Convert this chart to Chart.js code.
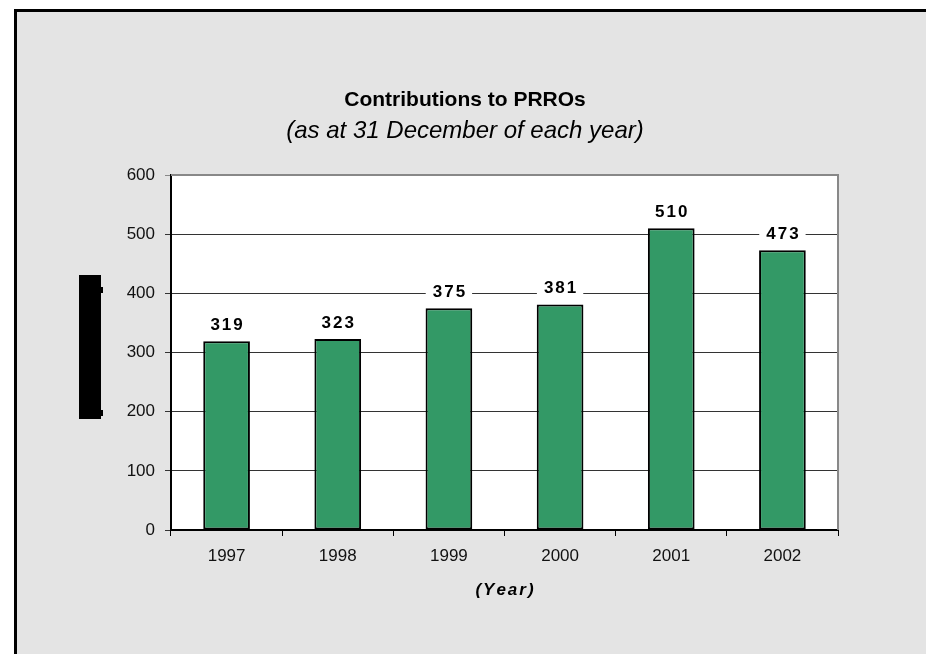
<!DOCTYPE html>
<html>
<head>
<meta charset="utf-8">
<script src="https://cdn.jsdelivr.net/npm/chart.js@4/dist/chart.umd.min.js"></script>
<style>
  html, body { margin: 0; padding: 0; background: #fff; }
  #wrap { position: relative; width: 926px; height: 654px; }
</style>
</head>
<body>
<div id="wrap"><canvas id="myChart" width="926" height="654"></canvas></div>
<script>
const years = ["1997", "1998", "1999", "2000", "2001", "2002"];
const contributions = [319, 323, 375, 381, 510, 473];
const yTicks = [0, 100, 200, 300, 400, 500, 600];

const FONT = "'Liberation Sans', Arial, sans-serif";

// draws text one char at a time so letter spacing works everywhere
function spacedText(ctx, text, cx, cy, spacing) {
    const chars = text.split("");
    let total = 0;
    chars.forEach((c) => (total += ctx.measureText(c).width));
    total += spacing * (chars.length - 1);
    let x = cx - total / 2;
    ctx.textAlign = "left";
    chars.forEach((c) => {
        ctx.fillText(c, x, cy);
        x += ctx.measureText(c).width + spacing;
    });
    return total;
}

const panel = {
    id: "panel",
    beforeDraw(chart) {
        const { ctx, chartArea } = chart;
        ctx.save();
        ctx.fillStyle = "#ffffff";
        ctx.fillRect(0, 0, chart.width, chart.height);
        ctx.fillStyle = "#e4e4e4";
        ctx.fillRect(14, 9, chart.width - 14, chart.height - 9);
        ctx.strokeStyle = "#000";
        ctx.lineWidth = 3;
        ctx.beginPath();
        ctx.moveTo(15.5, chart.height);
        ctx.lineTo(15.5, 10.5);
        ctx.lineTo(chart.width, 10.5);
        ctx.stroke();
        // plot area
        ctx.fillStyle = "#ffffff";
        ctx.fillRect(chartArea.left, chartArea.top, chartArea.right - chartArea.left, chartArea.bottom - chartArea.top);
        ctx.restore();
    },
    afterDraw(chart) {
        const { ctx, chartArea } = chart;
        ctx.save();
        ctx.strokeStyle = "#888";
        ctx.lineWidth = 2;
        ctx.beginPath();
        ctx.moveTo(chartArea.left, chartArea.top);
        ctx.lineTo(chartArea.right, chartArea.top);
        ctx.lineTo(chartArea.right, chartArea.bottom);
        ctx.stroke();

        // titles
        const mid = (chartArea.left + chartArea.right) / 2;
        ctx.fillStyle = "#000";
        ctx.textAlign = "center";
        ctx.textBaseline = "alphabetic";
        ctx.font = "bold 21px " + FONT;
        ctx.fillText("Contributions to PRROs", 465, 106);
        ctx.font = "italic 24px " + FONT;
        ctx.fillText("(as at 31 December of each year)", 465, 138);
        ctx.textBaseline = "middle";
        ctx.font = "italic bold 17px " + FONT;
        spacedText(ctx, "(Year)", mid, 590, 2);

        // redacted axis title block
        ctx.fillStyle = "#000";
        ctx.fillRect(79, 275, 22, 144);
        ctx.fillRect(101, 287, 2, 6);
        ctx.fillRect(101, 410, 2, 6);

        // value labels
        const meta = chart.getDatasetMeta(0);
        ctx.font = "bold 17px " + FONT;
        meta.data.forEach((bar, i) => {
            const txt = String(contributions[i]);
            const cy = bar.y - 17;
            let w = 0;
            txt.split("").forEach((c) => (w += ctx.measureText(c).width));
            w += 2 * (txt.length - 1);
            ctx.fillStyle = "#ffffff";
            ctx.fillRect(bar.x - w / 2 - 7, cy - 12, w + 14, 24);
            ctx.fillStyle = "#000";
            spacedText(ctx, txt, bar.x, cy + 1, 2);
        });
        ctx.restore();
    },
};

const data = {
    labels: years,
    datasets: [
        {
            data: contributions,
            backgroundColor: "#339966",
            borderColor: "#000",
            borderWidth: 2,
            borderSkipped: false,
            categoryPercentage: 1,
            barPercentage: 0.42,
        },
    ],
};

const config = {
    type: "bar",
    data: data,
    options: {
        responsive: false,
        animation: false,
        layout: { padding: { left: 111, right: 88, top: 175, bottom: 0 } },
        plugins: { legend: { display: false }, tooltip: { enabled: false } },
        scales: {
            x: {
                grid: { drawOnChartArea: false, drawTicks: true, tickLength: 6, color: "#000", offset: true },
                border: { color: "#000", width: 2 },
                ticks: { color: "#111", padding: 10, font: { family: FONT, size: 17 } },
                afterFit: (s) => { s.height = 124; },
            },
            y: {
                min: 0,
                max: 600,
                afterBuildTicks: (s) => { s.ticks = yTicks.map((v) => ({ value: v })); },
                grid: {
                    tickLength: 6,
                    color: (c) => (c.tick && c.tick.value === 600 ? "#888" : "#333"),
                },
                border: { color: "#000", width: 2 },
                ticks: { color: "#111", padding: 10, font: { family: FONT, size: 17 } },
                afterFit: (s) => { s.width = 60; },
            },
        },
    },
    plugins: [panel],
};

new Chart(document.getElementById("myChart"), config);
</script>
</body>
</html>
